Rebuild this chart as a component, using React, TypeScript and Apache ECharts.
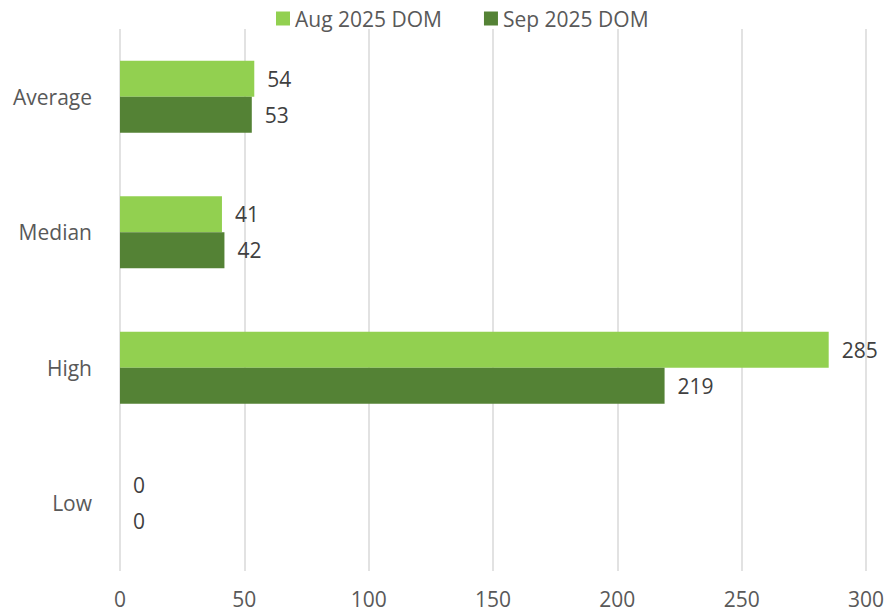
import React, { useEffect, useRef } from "react";
import * as echarts from "echarts";

const categories = ["Average", "Median", "High", "Low"];
const seriesNames = ["Aug 2025 DOM", "Sep 2025 DOM"];
const augValues = [54, 41, 285, 0];
const sepValues = [53, 42, 219, 0];
const colors = ["#92D050", "#548235"];

export default function App() {
  const ref = useRef<HTMLDivElement>(null);
  useEffect(() => {
    const chart = echarts.init(ref.current!, null, { renderer: "svg" });
    const font = "'Open Sans', sans-serif";
    const label = {
      show: true,
      position: "right",
      distance: 13,
      color: "#404040",
      fontSize: 21,
      fontFamily: font,
    };
    chart.setOption({
      animation: false,
      textStyle: { fontFamily: font },
      legend: {
        top: 3,
        left: 271,
        itemWidth: 14,
        itemHeight: 14,
        itemGap: 42,
        icon: "rect",
        textStyle: { fontSize: 21, color: "#595959", fontFamily: font },
        data: seriesNames,
      },
      grid: { left: 120, right: 22, top: 29, bottom: 43, containLabel: false },
      xAxis: {
        type: "value",
        min: 0,
        max: 300,
        interval: 50,
        axisLine: { show: false },
        axisTick: { show: false },
        axisLabel: { fontSize: 21, color: "#595959", margin: 17, fontFamily: font },
        splitLine: { show: true, lineStyle: { color: "#D9D9D9", width: 1.5 } },
      },
      yAxis: {
        type: "category",
        inverse: true,
        data: categories,
        axisLine: { show: false },
        axisTick: { show: false },
        axisLabel: { fontSize: 21, color: "#595959", margin: 28, fontFamily: font },
      },
      series: [
        {
          name: seriesNames[0],
          type: "bar",
          data: augValues,
          itemStyle: { color: colors[0] },
          barGap: "0%",
          barCategoryGap: "47%",
          label,
        },
        {
          name: seriesNames[1],
          type: "bar",
          data: sepValues,
          itemStyle: { color: colors[1] },
          barGap: "0%",
          barCategoryGap: "47%",
          label,
        },
      ],
    });
    return () => chart.dispose();
  }, []);
  return (
    <div
      ref={ref}
      style={{ position: "absolute", left: 0, top: 0, width: 888, height: 614, background: "#fff" }}
    />
  );
}
